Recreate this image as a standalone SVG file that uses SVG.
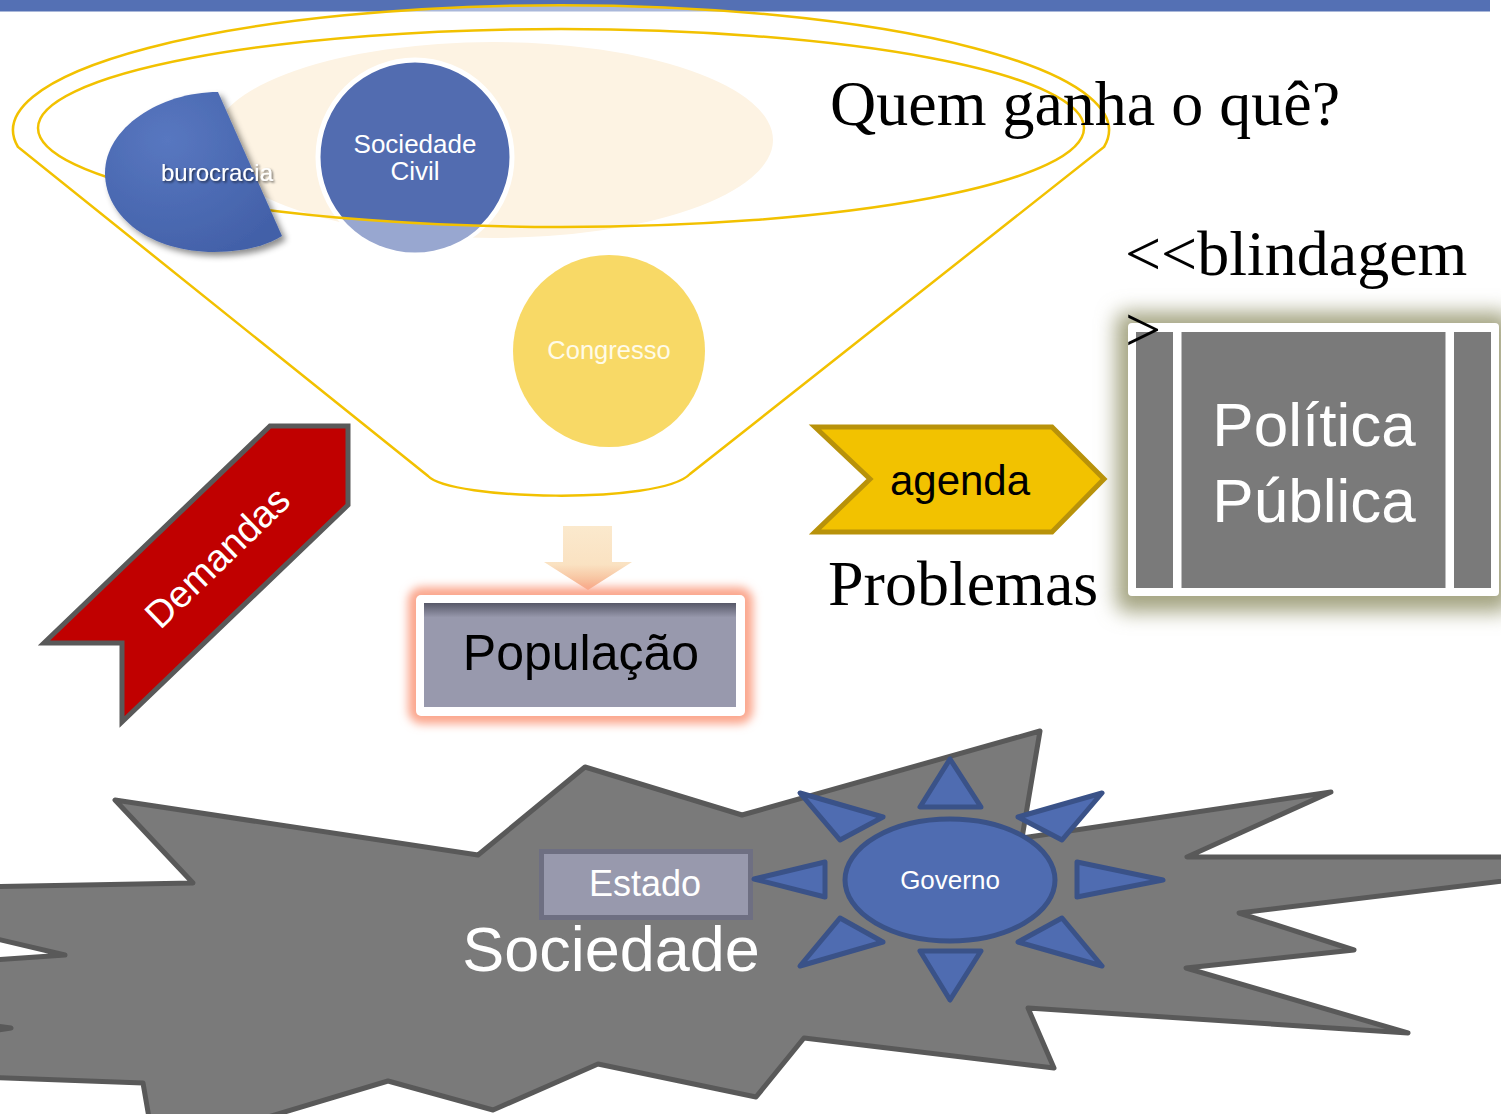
<svg xmlns="http://www.w3.org/2000/svg" width="1501" height="1114" viewBox="0 0 1501 1114">
<defs>
<style>
.sans{font-family:"Liberation Sans",Arial,sans-serif}
.serif{font-family:"Liberation Serif","Times New Roman",serif;font-size:64px;fill:#000}
.funnel{fill:none;stroke:#f2c100;stroke-width:2.5}
.ray{fill:#4f6cb1;stroke:#3a5288;stroke-width:5;stroke-linejoin:round}
.wt{fill:#fff}
</style>
<filter id="shadow" x="-20%" y="-20%" width="150%" height="150%">
<feDropShadow dx="4" dy="4" stdDeviation="3" flood-color="#000" flood-opacity="0.45"/>
</filter>
<filter id="tshadow" x="-10%" y="-30%" width="120%" height="160%">
<feDropShadow dx="1.5" dy="1.5" stdDeviation="1" flood-color="#000" flood-opacity="0.6"/>
</filter>
<filter id="blur10" x="-30%" y="-30%" width="160%" height="160%">
<feGaussianBlur stdDeviation="10"/>
</filter>
<filter id="blur5" x="-30%" y="-30%" width="160%" height="160%">
<feGaussianBlur stdDeviation="5"/>
</filter>
<radialGradient id="buroGrad" cx="0.35" cy="0.3" r="0.8">
<stop offset="0" stop-color="#5877c0"/>
<stop offset="1" stop-color="#4260a8"/>
</radialGradient>
<linearGradient id="popArrow" x1="0" y1="0" x2="0" y2="1">
<stop offset="0" stop-color="#fbe9cd"/>
<stop offset="0.6" stop-color="#fae2c2"/>
<stop offset="1" stop-color="#f6ae88"/>
</linearGradient>
<linearGradient id="popGray" x1="0" y1="0" x2="0" y2="1">
<stop offset="0" stop-color="#575868"/>
<stop offset="0.14" stop-color="#9899ad"/>
<stop offset="1" stop-color="#9899ad"/>
</linearGradient>
<mask id="outsideInner">
<rect x="0" y="0" width="1501" height="1114" fill="#fff"/>
<ellipse cx="561" cy="128" rx="523" ry="99" fill="#000"/>
</mask>
</defs>

<rect id="topbar" x="0" y="0" width="1490" height="11.5" fill="#5470b4"/>

<g id="funnel">
<path d="M 18,147 A 548 125 0 1 1 1104,147 L 690,474 C 660,505 450,500 428,476 Z" fill="#fff" fill-opacity="0.5"/>
<ellipse cx="493" cy="140" rx="280" ry="98" fill="#fdf3e3"/>
</g>

<g id="sociedade-civil">
<circle cx="415" cy="157" r="97" fill="#526cb0" stroke="#fff" stroke-width="5"/>
<circle cx="415" cy="157" r="95.5" fill="#98a7d0" mask="url(#outsideInner)"/>
<text class="sans wt" font-size="26" text-anchor="middle" x="415" y="153">Sociedade</text>
<text class="sans wt" font-size="26" text-anchor="middle" x="415" y="180">Civil</text>
</g>

<g id="congresso">
<circle cx="609" cy="351" r="96" fill="#f8d966"/>
<text class="sans" font-size="25.5" fill="#fffbe8" text-anchor="middle" x="609" y="359">Congresso</text>
</g>

<g id="funnel-lines">
<path class="funnel" d="M 18,147 A 548 125 0 1 1 1104,147 L 690,474 C 660,505 450,500 428,476 Z"/>
<ellipse class="funnel" cx="561" cy="128" rx="523" ry="99"/>
</g>

<g id="burocracia">
<path d="M 218,92 L 282,236 C 262,248 238,252 214,252 C 152,252 105,218 105,173 C 105,128 160,92 218,92 Z" fill="url(#buroGrad)" filter="url(#shadow)"/>
<text class="sans wt" font-size="24" text-anchor="middle" x="217" y="181" filter="url(#tshadow)">burocracia</text>
</g>

<g id="quem-ganha">
<text class="serif" x="830" y="125">Quem ganha o quê?</text>
</g>

<g id="politica-publica">
<rect x="1116" y="312" width="395" height="300" rx="10" fill="#a4a482" filter="url(#blur10)"/>
<rect x="1128" y="323" width="371" height="273" rx="4" fill="#fff"/>
<rect x="1136" y="332" width="355" height="256" fill="#7a7a7a"/>
<rect x="1173" y="332" width="8.5" height="256" fill="#fff"/>
<rect x="1445.5" y="332" width="8.5" height="256" fill="#fff"/>
<text class="sans wt" font-size="62" text-anchor="middle" x="1314" y="446">Política</text>
<text class="sans wt" font-size="62" text-anchor="middle" x="1314" y="522">Pública</text>
</g>

<g id="blindagem">
<text class="serif" x="1125" y="275">&lt;&lt;blindagem</text>
<text class="serif" x="1125" y="351">&gt;</text>
</g>

<g id="agenda">
<polygon points="815,427 1052,427 1104,479 1052,532 815,532 870,479" fill="#f2c200" stroke="#b8920a" stroke-width="5"/>
<text class="sans" font-size="42" fill="#000" text-anchor="middle" x="960" y="495">agenda</text>
</g>

<g id="problemas">
<text class="serif" x="828" y="605">Problemas</text>
</g>

<g id="demandas">
<polygon points="270,426 348,426 348,505 122,722 122,643 44,643" fill="#c00000" stroke="#595959" stroke-width="5"/>
<text class="sans wt" font-size="38" text-anchor="middle" transform="translate(217,557) rotate(-44)" x="0" y="13.5">Demandas</text>
</g>

<g id="populacao">
<path d="M 563,526 L 612,526 L 612,562 L 632,562 L 588,590 L 544,562 L 563,562 Z" fill="url(#popArrow)"/>
<rect x="408" y="587" width="345" height="137" rx="14" fill="#fba68c" filter="url(#blur5)"/>
<rect x="416" y="595" width="329" height="121" rx="5" fill="#fff"/>
<rect x="424" y="603" width="312" height="104" fill="url(#popGray)"/>
<text class="sans" font-size="50" fill="#000" text-anchor="middle" x="581" y="670">População</text>
</g>

<g id="sociedade">
<polygon points="115,800 478,855 585,767 742,815 1040,731 1022,838 1331,792 1187,857 1560,857 1560,874 1239,913 1354,950 1186,968 1408,1033 1028,1008 1054,1068 804,1038 756,1097 598,1064 493,1110 388,1081 208,1135 152,1135 143,1083 -20,1077 -20,1033 11,1028 -20,1024 -20,961 65,955 -20,935 -20,887 193,883" fill="#7a7a7a" stroke="#595959" stroke-width="5" stroke-linejoin="round"/>
<text class="sans wt" font-size="63" text-anchor="middle" x="611" y="971">Sociedade</text>
</g>

<g id="estado">
<rect x="541.5" y="851.5" width="209" height="66" fill="#9899ad" stroke="#6e6f82" stroke-width="5"/>
<text class="sans wt" font-size="36" text-anchor="middle" x="645" y="896">Estado</text>
</g>

<g id="governo">
<polygon class="ray" points="950,759 920,807 981,807"/>
<polygon class="ray" points="800,793 883,817 840,840"/>
<polygon class="ray" points="1102,793 1018,817 1062,840"/>
<polygon class="ray" points="754,879 825,862 825,897"/>
<polygon class="ray" points="1163,880 1077,862 1077,897"/>
<polygon class="ray" points="800,966 883,942 840,918"/>
<polygon class="ray" points="1102,966 1018,942 1062,918"/>
<polygon class="ray" points="950,1000 920,951 981,951"/>
<ellipse cx="950" cy="880" rx="105" ry="61" fill="#4f6cb1" stroke="#3a5288" stroke-width="5"/>
<text class="sans wt" font-size="26" text-anchor="middle" x="950" y="889">Governo</text>
</g>
</svg>
